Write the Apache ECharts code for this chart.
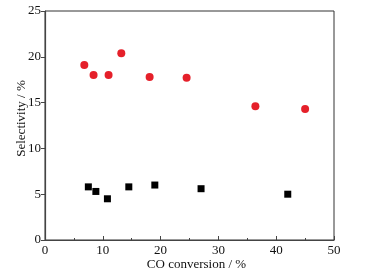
<!DOCTYPE html>
<html>
<head>
<meta charset="utf-8">
<script src="https://cdn.jsdelivr.net/npm/echarts@6/dist/echarts.min.js"></script>
<style>
html, body { margin: 0; padding: 0; background: #fff; }
#chart { width: 368px; height: 276px; }
</style>
</head>
<body>
<div id="chart"></div>
<script>
// red circles
var redX = [6.8, 8.4, 11.0, 13.2, 18.1, 24.5, 36.4, 45.0];
var redY = [19.1, 18.0, 18.0, 20.4, 17.8, 17.7, 14.6, 14.3];
// black squares
var blackX = [7.5, 8.8, 10.8, 14.5, 19.0, 27.0, 42.0];
var blackY = [5.8, 5.3, 4.5, 5.8, 6.0, 5.6, 5.0];

var pairs = function(xs, ys) {
	var out = [];
	for (var i = 0; i < xs.length; i++) out.push([xs[i], ys[i]]);
	return out;
};

var font = 'Liberation Serif';
var chart = echarts.init(document.getElementById('chart'));
chart.setOption({
	animation: false,
	grid: {
		left: 45,
		right: 34,
		top: 11,
		bottom: 36,
		containLabel: false,
		outerBoundsMode: 'none',
		show: true,
		borderColor: '#333',
		borderWidth: 1
	},
	xAxis: {
		type: 'value',
		min: 0,
		max: 50,
		interval: 10,
		name: 'CO conversion / %',
		nameLocation: 'middle',
		nameGap: 18,
		nameMoveOverlap: false,
		nameTextStyle: { fontFamily: font, fontSize: 13, color: '#111', padding: [0, 0, 0, 14] },
		axisLine: { lineStyle: { color: '#444', width: 1.2 } },
		axisTick: { inside: true, length: 4, lineStyle: { color: '#444' } },
		minorTick: { show: true, splitNumber: 2, length: 2, lineStyle: { color: '#444' } },
		axisLabel: { fontFamily: font, fontSize: 13, color: '#111', margin: 4 },
		splitLine: { show: false }
	},
	yAxis: {
		type: 'value',
		min: 0,
		max: 25,
		interval: 5,
		name: 'Selectivity / %',
		nameLocation: 'middle',
		nameGap: 17,
		nameMoveOverlap: false,
		nameTextStyle: { fontFamily: font, fontSize: 13, color: '#111', padding: [0, 0, 0, 14] },
		axisLine: { show: true, lineStyle: { color: '#444', width: 1.2 } },
		axisTick: { show: true, length: 4, lineStyle: { color: '#444' } },
		axisLabel: { fontFamily: font, fontSize: 13, color: '#111', margin: 4 },
		splitLine: { show: false }
	},
	series: [{
		type: 'scatter',
		data: pairs(redX, redY),
		symbol: 'circle',
		symbolSize: 8,
		itemStyle: { color: '#e5202a', opacity: 1 }
	}, {
		type: 'scatter',
		data: pairs(blackX, blackY),
		symbol: 'rect',
		symbolSize: 7,
		itemStyle: { color: '#000', opacity: 1 }
	}]
});
</script>
</body>
</html>
